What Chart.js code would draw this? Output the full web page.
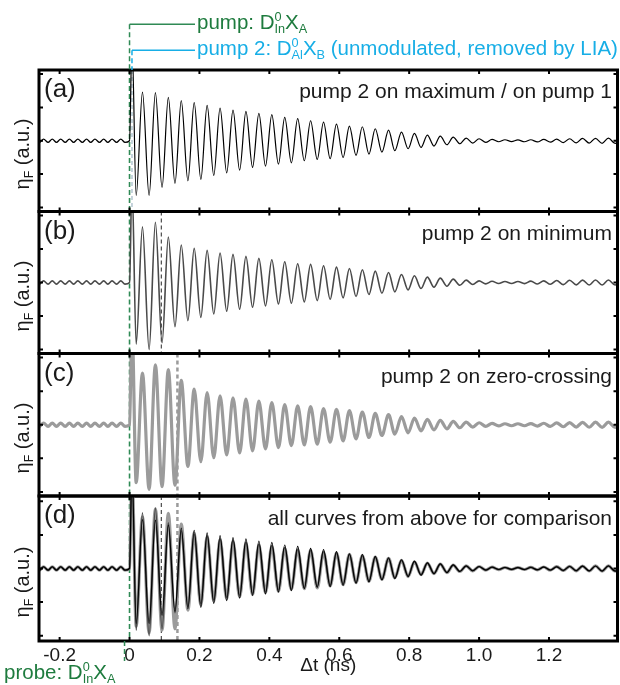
<!DOCTYPE html>
<html><head><meta charset="utf-8">
<script src="https://cdn.jsdelivr.net/npm/chart.js@4/dist/chart.umd.min.js"></script>
<style>
html,body{margin:0;padding:0;background:#fff}
#wrap{position:relative;width:620px;height:685px;overflow:hidden;font-family:"Liberation Sans",Arial,Helvetica,sans-serif}
canvas{position:absolute;left:0;top:0}
.t{position:absolute;white-space:nowrap;line-height:1;color:#1a1a1a}
.ss{display:inline-block;font-size:0.62em;line-height:0.95;vertical-align:-0.32em;text-align:left}
.ss span{display:block}
.sb{font-size:0.62em;vertical-align:-0.32em;line-height:0}
.yt{position:absolute;white-space:nowrap;line-height:1;font-size:20px;color:#1a1a1a;transform:translate(-50%,-50%) rotate(-90deg)}
.pl{position:absolute;left:44px;font-size:26px;line-height:1;color:#1a1a1a}
.pd{position:absolute;right:8px;font-size:21px;line-height:1;color:#1a1a1a;white-space:nowrap}
</style></head><body>
<div id="wrap">
<canvas id="cA" width="620" height="685"></canvas>
<canvas id="cB" width="620" height="685"></canvas>
<canvas id="cC" width="620" height="685"></canvas>
<canvas id="cD" width="620" height="685"></canvas>
<canvas id="ov" width="620" height="685"></canvas>

<div class="t" id="leg1" style="left:197px;top:11px;font-size:20.5px;color:#1e7b3e">pump: D<span class="ss"><span>0</span><span>In</span></span>X<span class="sb">A</span></div>
<div class="t" id="leg2" style="left:197px;top:37px;font-size:20.5px;color:#17aee6">pump 2: D<span class="ss"><span>0</span><span>Al</span></span>X<span class="sb">B</span> (unmodulated, removed by LIA)</div>
<div class="t" id="probe" style="left:4px;top:661px;font-size:20.5px;color:#1e7b3e">probe: D<span class="ss"><span>0</span><span>In</span></span>X<span class="sb">A</span></div>

<div class="pl" style="top:75px">(a)</div>
<div class="pl" style="top:217px">(b)</div>
<div class="pl" style="top:359px">(c)</div>
<div class="pl" style="top:501px">(d)</div>

<div class="pd" style="top:80px">pump 2 on maximum / on pump 1</div>
<div class="pd" style="top:222px">pump 2 on minimum</div>
<div class="pd" style="top:365px">pump 2 on zero-crossing</div>
<div class="pd" style="top:507px">all curves from above for comparison</div>

<div class="yt" style="left:22px;top:154px">η<span class="sb">F</span> (a.u.)</div>
<div class="yt" style="left:22px;top:296px">η<span class="sb">F</span> (a.u.)</div>
<div class="yt" style="left:22px;top:438px">η<span class="sb">F</span> (a.u.)</div>
<div class="yt" style="left:22px;top:582px">η<span class="sb">F</span> (a.u.)</div>
</div>
<script>
// ---------- data ----------
const xTicks = [-0.2, 0, 0.2, 0.4, 0.6, 0.8, 1.0, 1.2];
const yTicks = [-1, -0.5, 0, 0.5, 1];

// small oscillation before time zero (extrema)
const preT = [-0.270,-0.258,-0.246,-0.233,-0.221,-0.209,-0.197,-0.184,-0.172,-0.160,-0.148,
              -0.135,-0.123,-0.111,-0.099,-0.086,-0.074,-0.062,-0.050,-0.037,-0.025,-0.013];
const preY = [0.025,-0.025,0.025,-0.025,0.025,-0.025,0.025,-0.025,0.025,-0.025,0.025,
              -0.025,0.025,-0.025,0.025,-0.025,0.025,-0.025,0.025,-0.025,0.025,-0.025];

// onset spike at the pump arrival
const onsetT = [0.000, 0.007];
const onsetY = [0.00, 1.50];

// extrema times after the pump
const postT = [0.019,0.037,0.056,0.074,0.093,0.111,0.130,0.148,0.167,0.185,
 0.204,0.222,0.241,0.259,0.278,0.296,0.315,0.333,0.352,0.370,
 0.389,0.407,0.426,0.444,0.463,0.481,0.500,0.518,0.537,0.555,
 0.574,0.592,0.611,0.629,0.648,0.666,0.685,0.703,0.722,0.741,
 0.759,0.778,0.797,0.815,0.834,0.852,0.871,0.889,0.908,0.926,
 0.945,0.963,0.982,1.000,1.019,1.037,1.056,1.074,1.093,1.111,
 1.130,1.148,1.167,1.185,1.204,1.222,1.241,1.259,1.278,1.296,
 1.315,1.333,1.352,1.370,1.389,1.408];

// (a) pump 2 on maximum / on pump 1
const curveA = [-0.82,0.73,-0.82,0.72,-0.70,0.65,-0.64,0.60,-0.60,0.57,
 -0.58,0.53,-0.52,0.49,-0.48,0.46,-0.44,0.44,-0.40,0.41,
 -0.38,0.39,-0.35,0.35,-0.33,0.33,-0.30,0.30,-0.28,0.28,
 -0.27,0.25,-0.25,0.22,-0.22,0.21,-0.20,0.18,-0.17,0.16,
 -0.15,0.13,-0.12,0.11,-0.10,0.085,-0.08,0.07,-0.06,0.055,
 -0.045,0.04,-0.035,0.03,-0.025,0.02,-0.015,0.015,-0.012,0.012,
 -0.015,0.015,-0.018,0.02,-0.022,0.025,-0.028,0.03,-0.032,0.035,
 -0.035,0.037,-0.038,0.04,-0.04,0.04];

// (b) pump 2 on minimum
const curveB = [-0.92,0.83,-1.00,0.90,-0.90,0.68,-0.66,0.56,-0.57,0.51,
 -0.52,0.48,-0.47,0.44,-0.43,0.42,-0.40,0.39,-0.37,0.36,
 -0.35,0.34,-0.32,0.31,-0.31,0.28,-0.29,0.27,-0.27,0.25,
 -0.25,0.23,-0.23,0.21,-0.21,0.19,-0.18,0.17,-0.16,0.15,
 -0.14,0.12,-0.11,0.10,-0.09,0.08,-0.07,0.065,-0.055,0.05,
 -0.04,0.035,-0.03,0.025,-0.02,0.018,-0.015,0.015,-0.015,0.015,
 -0.017,0.02,-0.022,0.025,-0.027,0.03,-0.032,0.034,-0.035,0.036,
 -0.037,0.038,-0.038,0.038,-0.038,0.038];

// (c) pump 2 on zero-crossing
const curveC = [-0.86,0.77,-0.96,0.89,-0.92,0.82,-0.90,0.66,-0.62,0.53,
 -0.55,0.48,-0.49,0.43,-0.45,0.40,-0.42,0.38,-0.39,0.35,
 -0.36,0.33,-0.34,0.30,-0.31,0.28,-0.30,0.27,-0.29,0.24,
 -0.26,0.23,-0.24,0.21,-0.21,0.19,-0.19,0.17,-0.16,0.15,
 -0.14,0.12,-0.12,0.10,-0.09,0.08,-0.075,0.065,-0.06,0.05,
 -0.045,0.04,-0.035,0.03,-0.025,0.02,-0.018,0.015,-0.015,0.015,
 -0.015,0.017,-0.02,0.022,-0.025,0.028,-0.03,0.032,-0.034,0.036,
 -0.037,0.038,-0.039,0.04,-0.04,0.04];

// pump arrival times (ns)
const pump1T = 0;
const pump2T = {a: 0.007, b: 0.091, c: 0.137};

// ---------- styling ----------
const GREEN = '#2f8a55', CYAN = '#17aee6';
const styleA = {color:'#000000', width:1.2};
const styleB = {color:'#4a4a4a', width:1.6};
const styleC = {color:'#9b9b9b', width:3.2};
const FONT = '"Liberation Sans", Arial, Helvetica, sans-serif';
const X_MIN = -0.259, X_MAX = 1.396;

function series(vals) {
  const pts = [];
  preT.forEach((t,i)=>pts.push({x:t, y:preY[i]}));
  onsetT.forEach((t,i)=>pts.push({x:t, y:onsetY[i]}));
  postT.forEach((t,i)=>pts.push({x:t, y:vals[i]}));
  return pts;
}
function ds(vals, st, order) {
  return {data: series(vals), borderColor: st.color, borderWidth: st.width, pointRadius: 0,
          cubicInterpolationMode: 'monotone', fill: false, clip: 0, order: order || 0};
}

const framePlugin = {
  id: 'frame',
  beforeDatasetsDraw(chart, args, opts) {
    const {ctx, chartArea: a, scales: {x}} = chart;
    (opts.vlines || []).forEach(v => {
      const px = x.getPixelForValue(v.t);
      ctx.save();
      ctx.beginPath();
      ctx.rect(a.left, a.top, a.right - a.left, a.bottom - a.top);
      ctx.clip();
      ctx.strokeStyle = v.color; ctx.lineWidth = v.width; ctx.setLineDash(v.dash);
      ctx.beginPath(); ctx.moveTo(px, a.top); ctx.lineTo(px, a.bottom); ctx.stroke();
      ctx.restore();
    });
  },
  afterDatasetsDraw(chart) {
    const {ctx, chartArea: a, scales: {x, y}} = chart;
    ctx.save();
    ctx.strokeStyle = '#000'; ctx.lineWidth = 2; ctx.setLineDash([]);
    ctx.beginPath();
    xTicks.forEach(v => {
      const px = x.getPixelForValue(v);
      ctx.moveTo(px, a.top); ctx.lineTo(px, a.top + 4);
      ctx.moveTo(px, a.bottom); ctx.lineTo(px, a.bottom - 4);
    });
    yTicks.forEach(v => {
      const py = y.getPixelForValue(v);
      ctx.moveTo(a.left, py); ctx.lineTo(a.left + 4, py);
      ctx.moveTo(a.right, py); ctx.lineTo(a.right - 4, py);
    });
    ctx.stroke();
    ctx.lineWidth = 3;
    ctx.strokeRect(a.left, a.top, a.right - a.left, a.bottom - a.top);
    ctx.restore();
  }
};

function makePanel(id, top, bottom, yLim, datasets, vlines, showX) {
  const xScale = {
    type: 'linear', min: X_MIN, max: X_MAX, display: showX,
    grid: {display: false, drawTicks: false}, border: {display: false},
    afterBuildTicks: s => { s.ticks = xTicks.map(v => ({value: v})); },
    ticks: {color: '#1a1a1a', padding: 3, maxRotation: 0, autoSkip: false,
            font: {family: FONT, size: 19},
            callback: v => (v === 0 ? '0' : v.toFixed(1))},
    title: {display: showX, text: 'Δt (ns)', color: '#1a1a1a', font: {family: FONT, size: 19},
            padding: {top: 0, bottom: 4}}
  };
  if (showX) xScale.afterFit = s => { s.height = 40; };
  return new Chart(document.getElementById(id), {
    type: 'line',
    data: {datasets},
    options: {
      responsive: false, animation: false, devicePixelRatio: 1,
      layout: {padding: {left: 39, right: 2.5, top: top, bottom: showX ? 685 - bottom - 40 : 685 - bottom}},
      plugins: {legend: {display: false}, tooltip: {enabled: false}, frame: {vlines}},
      scales: {
        x: xScale,
        y: {type: 'linear', display: false, min: -yLim, max: yLim,
            afterBuildTicks: s => { s.ticks = yTicks.map(v => ({value: v})); }}
      }
    },
    plugins: [framePlugin]
  });
}

const gDash = {t: pump1T, color: GREEN, width: 1.6, dash: [5, 3]};
const chA = makePanel('cA', 70, 211.5, 1.06, [ds(curveA, styleA)],
  [gDash, {t: pump2T.a, color: '#9fb7c4', width: 1.2, dash: [4, 3]}], false);
const chB = makePanel('cB', 211.5, 353.5, 1.06, [ds(curveB, styleB)],
  [gDash, {t: pump2T.b, color: '#4a4a4a', width: 1.2, dash: [4, 3]}], false);
const chC = makePanel('cC', 353.5, 496, 1.06, [ds(curveC, styleC)],
  [gDash, {t: pump2T.c, color: '#9b9b9b', width: 2.5, dash: [4, 3]}], false);
// comparison panel: thick light grey at the back, black on top
const chD = makePanel('cD', 496, 641, 1.08,
  [ds(curveA, styleA, 0), ds(curveB, styleB, 1), ds(curveC, styleC, 2)],
  [gDash, {t: pump2T.b, color: '#4a4a4a', width: 1.2, dash: [4, 3]},
   {t: pump2T.c, color: '#9b9b9b', width: 2.5, dash: [4, 3]}], true);

// connectors from the pump labels to the time axis
(function () {
  const ctx = document.getElementById('ov').getContext('2d');
  const wrap = document.getElementById('wrap').getBoundingClientRect();
  const l1 = document.getElementById('leg1').getBoundingClientRect();
  const l2 = document.getElementById('leg2').getBoundingClientRect();
  const pr = document.getElementById('probe').getBoundingClientRect();
  const x0 = chA.scales.x.getPixelForValue(pump1T);
  const x2 = chA.scales.x.getPixelForValue(pump2T.a);
  const y1 = l1.top - wrap.top + l1.height * 0.55;
  const y2 = l2.top - wrap.top + l2.height * 0.55;
  const topA = chA.chartArea.top, botD = chD.chartArea.bottom;
  ctx.lineWidth = 1.5;
  ctx.strokeStyle = GREEN;
  ctx.beginPath(); ctx.moveTo(x0, y1); ctx.lineTo(l1.left - wrap.left - 2, y1); ctx.stroke();
  ctx.setLineDash([5, 3]);
  ctx.beginPath(); ctx.moveTo(x0, y1); ctx.lineTo(x0, topA); ctx.stroke();
  ctx.beginPath(); ctx.moveTo(x0 - 5, botD); ctx.lineTo(x0 - 5, pr.top - wrap.top); ctx.stroke();
  ctx.setLineDash([]);
  ctx.strokeStyle = CYAN;
  ctx.beginPath(); ctx.moveTo(x2, y2); ctx.lineTo(l2.left - wrap.left - 2, y2); ctx.stroke();
  ctx.setLineDash([5, 3]);
  ctx.beginPath(); ctx.moveTo(x2, y2); ctx.lineTo(x2, topA); ctx.stroke();
})();
</script>
</body></html>
